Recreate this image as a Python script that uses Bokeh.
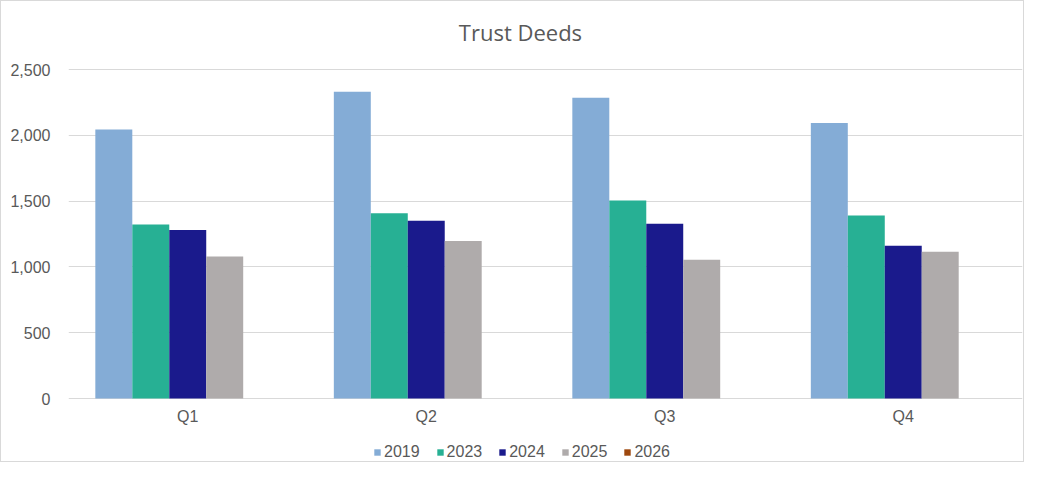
from bokeh.plotting import figure
from bokeh.models import ColumnDataSource, Legend, LegendItem, NumeralTickFormatter, FixedTicker
from bokeh.core.properties import value
from bokeh.transform import dodge
from bokeh.embed import file_html
from bokeh.resources import INLINE

quarters = ["Q1", "Q2", "Q3", "Q4"]
years = ["2019", "2023", "2024", "2025", "2026"]
v2019 = [2045, 2330, 2285, 2094]
v2023 = [1322, 1408, 1505, 1390]
v2024 = [1280, 1350, 1327, 1161]
v2025 = [1079, 1196, 1054, 1115]
v2026 = [0, 0, 0, 0]
yticks = [0, 500, 1000, 1500, 2000, 2500]
colors = ["#84ACD6", "#27B094", "#1A1A8C", "#AFABAB", "#9E480E"]
title = "Trust Deeds"

source = ColumnDataSource(dict(q=quarters, y2019=v2019, y2023=v2023,
                               y2024=v2024, y2025=v2025, y2026=v2026))

# the frame fills the whole card, so the value axis runs past 0..2500 to leave
# room for the title above and the quarter labels / legend below
ppu = 329 / 2500          # pixels per unit
y0 = -65 / ppu
y1 = 2500 + 68 / ppu

p = figure(x_range=quarters, y_range=(y0, y1), width=1024, height=462,
           min_border_left=67, min_border_right=3, min_border_top=0, min_border_bottom=0,
           output_backend="svg", toolbar_location=None)
p.xaxis.visible = False

bw = 0.155
offsets = [-2 * bw, -bw, 0, bw, 2 * bw]
items = []
for yr, off, c in zip(years, offsets, colors):
    r = p.vbar(x=dodge("q", off, range=p.x_range), top="y" + yr, width=bw,
               source=source, fill_color=c, line_color=None)
    items.append(LegendItem(label=yr, renderers=[r]))

# quarter labels under the baseline
p.text(x="q", y=-18 / ppu, text="q", source=source, text_align="center",
       text_baseline="middle", text_font=value("Liberation Sans"),
       text_font_size="16px", text_color="#595959")

# chart title, centred on the card
p.text(x=[1.895], y=[2500 + 38 / ppu], text=[title], text_align="center",
       text_baseline="middle", text_font=value("Open Sans"),
       text_font_size="22px", text_color="#595959")

p.yaxis.ticker = FixedTicker(ticks=yticks)
p.yaxis.formatter = NumeralTickFormatter(format="0,0")
p.yaxis.axis_line_color = None
p.yaxis.major_tick_line_color = None
p.yaxis.minor_tick_line_color = None
p.yaxis.major_label_standoff = 12
p.yaxis.major_label_text_font = "Liberation Sans"
p.yaxis.major_label_text_font_size = "16px"
p.yaxis.major_label_text_color = "#595959"

p.xgrid.grid_line_color = None
p.ygrid.grid_line_color = "#D9D9D9"
p.outline_line_color = None
p.styles = {"border": "1px solid #D9D9D9", "box-sizing": "border-box"}

legend = Legend(items=items, orientation="horizontal", location=(305, 2),
                glyph_width=8, glyph_height=8, label_standoff=3, spacing=16,
                label_text_font="Liberation Sans", label_text_font_size="16px",
                label_text_color="#595959", border_line_color=None,
                background_fill_alpha=0, padding=1, margin=0)
p.add_layout(legend, "center")

open("out.html", "w").write(file_html(p, INLINE))
